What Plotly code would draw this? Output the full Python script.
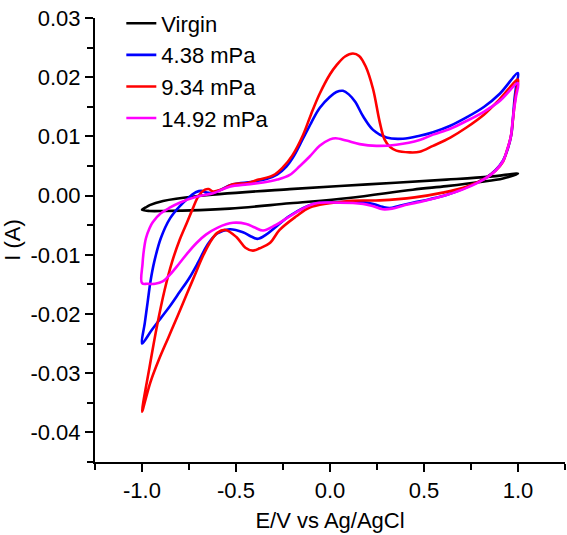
import plotly.graph_objects as go

# Virgin (black): upper branch -1 -> 1, then lower branch 1 -> -1
virgin_x = [-1.0, -0.98, -0.959, -0.888, -0.711, -0.214, 0.2, 0.62, 0.85, 1.0,
            0.92, 0.8, 0.62, 0.44, 0.1, -0.214, -0.534, -0.888, -0.96, -1.0]
virgin_y = [-0.0024, -0.0020, -0.0016, -0.0009, -0.0001, 0.0011, 0.0019, 0.0027, 0.0032, 0.0037,
            0.0029, 0.0023, 0.0016, 0.0010, -0.0004, -0.0013, -0.0022, -0.0026, -0.0026, -0.0024]

# 4.38 mPa (blue): anodic -1 -> 1, cathodic 1 -> -1
b_x = [-1.0, -0.985, -0.97, -0.955, -0.935, -0.9, -0.85, -0.8, -0.75, -0.711, -0.684, -0.655, -0.62,
       -0.516, -0.42, -0.338, -0.28, -0.232, -0.19, -0.144, -0.1, -0.055, 0.0, 0.034, 0.069, 0.1,
       0.135, 0.176, 0.229, 0.3, 0.388, 0.477, 0.548, 0.64, 0.726, 0.82, 0.903, 1.0,
       0.99, 0.982, 0.973, 0.965, 0.945, 0.92, 0.88, 0.832, 0.726, 0.619, 0.53, 0.44, 0.37, 0.317,
       0.28, 0.23, 0.176, 0.05, -0.09, -0.214, -0.285, -0.34, -0.383, -0.42, -0.463, -0.534,
       -0.6, -0.65, -0.7, -0.75, -0.8, -0.85, -0.9, -0.95, -1.0]
b_y = [-0.0250, -0.0215, -0.0180, -0.0145, -0.0112, -0.0072, -0.0038, -0.0018, -0.0003, 0.0006, 0.0008, 0.0005, 0.0005,
       0.0019, 0.0023, 0.0028, 0.0036, 0.0049, 0.0068, 0.0096, 0.0123, 0.0148, 0.0167, 0.0175, 0.0177, 0.0171,
       0.0158, 0.0134, 0.0111, 0.0098, 0.0096, 0.0101, 0.0107, 0.0118, 0.0132, 0.0150, 0.0172, 0.0207,
       0.0185, 0.0165, 0.0130, 0.0104, 0.0078, 0.0059, 0.0043, 0.0031, 0.0014, 0.0001, -0.0006, -0.0012, -0.0017, -0.0021,
       -0.0019, -0.0014, -0.0011, -0.0011, -0.0014, -0.0034, -0.0052, -0.0066, -0.0073, -0.0069, -0.0062, -0.0057,
       -0.0064, -0.0082, -0.0112, -0.0140, -0.0163, -0.0186, -0.0207, -0.0228, -0.0250]

# 9.34 mPa (red)
r_x = [-1.0, -0.96, -0.92, -0.88, -0.84, -0.8, -0.76, -0.73, -0.705, -0.685, -0.665, -0.645, -0.622,
       -0.58, -0.516, -0.445, -0.38, -0.303, -0.25, -0.2, -0.144, -0.1, -0.055, 0.0, 0.034, 0.08, 0.122,
       0.155, 0.19, 0.229, 0.264, 0.29, 0.32, 0.353, 0.424, 0.477, 0.548, 0.64, 0.726, 0.82, 0.903, 1.0,
       0.99, 0.982, 0.972, 0.962, 0.94, 0.92, 0.88, 0.83, 0.726, 0.6, 0.45, 0.264, 0.1, -0.108, -0.179,
       -0.268, -0.32, -0.374, -0.41, -0.45, -0.498, -0.556, -0.6, -0.64, -0.68, -0.72, -0.76, -0.81,
       -0.86, -0.91, -0.955, -1.0]
r_y = [-0.0365, -0.0290, -0.0220, -0.0160, -0.0112, -0.0075, -0.0045, -0.0022, -0.0004, 0.0005, 0.0010, 0.0011, 0.0007,
       0.0010, 0.0019, 0.0021, 0.0027, 0.0034, 0.0048, 0.0068, 0.0102, 0.0138, 0.0172, 0.0205, 0.0220, 0.0235, 0.0240,
       0.0236, 0.0218, 0.0180, 0.0125, 0.0095, 0.0082, 0.0076, 0.0073, 0.0074, 0.0084, 0.0098, 0.0115, 0.0137, 0.0163, 0.0196,
       0.0175, 0.0155, 0.0125, 0.0100, 0.0075, 0.0057, 0.0042, 0.0030, 0.0015, 0.0005, -0.0003, -0.0008, -0.0009, -0.0020, -0.0035,
       -0.0058, -0.0080, -0.0089, -0.0093, -0.0088, -0.0070, -0.0058, -0.0063, -0.0080, -0.0105, -0.0135, -0.0165, -0.0203,
       -0.0240, -0.0277, -0.0315, -0.0365]

# 14.92 mPa (magenta)
m_x = [-1.0, -0.997, -0.99, -0.979, -0.96, -0.943, -0.9, -0.85, -0.8, -0.711, -0.622, -0.534, -0.44,
       -0.356, -0.28, -0.214, -0.16, -0.108, -0.055, 0.0, 0.03, 0.087, 0.158, 0.247, 0.353, 0.477, 0.548,
       0.64, 0.726, 0.82, 0.903, 1.0,
       0.99, 0.98, 0.97, 0.962, 0.94, 0.92, 0.88, 0.832, 0.726, 0.619, 0.5, 0.4, 0.33, 0.28, 0.23, 0.176,
       0.05, -0.09, -0.214, -0.29, -0.356, -0.4, -0.445, -0.516, -0.597, -0.66, -0.71, -0.76, -0.805,
       -0.85, -0.89, -0.93, -0.97, -1.0]
m_y = [-0.0148, -0.0115, -0.0092, -0.0072, -0.0055, -0.0045, -0.0030, -0.0020, -0.0012, -0.0002, 0.0004, 0.0015, 0.0019,
       0.0022, 0.0027, 0.0035, 0.0050, 0.0066, 0.0084, 0.0095, 0.0097, 0.0093, 0.0087, 0.0084, 0.0086, 0.0094, 0.0103,
       0.0113, 0.0126, 0.0142, 0.0160, 0.0190,
       0.0168, 0.0148, 0.0122, 0.0100, 0.0075, 0.0058, 0.0042, 0.0030, 0.0013, 0.0001, -0.0009, -0.0016, -0.0022, -0.0023, -0.0018, -0.0014,
       -0.0012, -0.0014, -0.0035, -0.0050, -0.0059, -0.0054, -0.0048, -0.0046, -0.0054, -0.0066, -0.0080, -0.0098, -0.0116,
       -0.0133, -0.0145, -0.0149, -0.0149, -0.0148]

series_names = ["Virgin", "4.38 mPa", "9.34 mPa", "14.92 mPa"]
series_colors = ["#000000", "#0000FF", "#FF0000", "#FF00FF"]

x_tickvals = [-1.0, -0.5, 0.0, 0.5, 1.0]
x_ticktext = ["-1.0", "-0.5", "0.0", "0.5", "1.0"]
y_tickvals = [0.03, 0.02, 0.01, 0.0, -0.01, -0.02, -0.03, -0.04]
y_ticktext = ["0.03", "0.02", "0.01", "0.00", "-0.01", "-0.02", "-0.03", "-0.04"]

FONT = "Liberation Sans, Arial, sans-serif"

fig = go.Figure()
data = [(virgin_x, virgin_y), (b_x, b_y), (r_x, r_y), (m_x, m_y)]
for i, ((xs, ys), name, col) in enumerate(zip(data, series_names, series_colors)):
    fig.add_trace(go.Scatter(
        x=xs, y=ys, mode="lines", name=name, legendgroup=f"g{i}",
        line=dict(color=col, width=2.6, shape="spline", smoothing=1.0),
    ))

axis_common = dict(
    showline=True, linecolor="black", linewidth=2, ticks="outside", ticklen=8, tickwidth=2,
    tickcolor="black", showgrid=False, zeroline=False, mirror=False,
    tickfont=dict(family=FONT, size=22, color="black"),
)

fig.update_layout(
    width=567, height=535,
    margin=dict(l=95, r=2, t=15, b=73),
    paper_bgcolor="white", plot_bgcolor="white",
    font=dict(family=FONT, size=22, color="black"),
    showlegend=True,
    legend=dict(x=0.056, y=1.035, xanchor="left", yanchor="top", bgcolor="rgba(0,0,0,0)",
                font=dict(family=FONT, size=22, color="black"), tracegroupgap=11,
                traceorder="normal"),
    xaxis=dict(range=[-1.25, 1.25], tickmode="array", tickvals=x_tickvals, ticktext=x_ticktext,
               minor=dict(dtick=0.25, tick0=0, ticks="outside", ticklen=6, tickwidth=2, tickcolor="black"),
               title=dict(text="E/V vs Ag/AgCl", font=dict(family=FONT, size=22), standoff=10),
               **axis_common),
    yaxis=dict(range=[-0.045, 0.03], tickmode="array", tickvals=y_tickvals, ticktext=y_ticktext,
               minor=dict(dtick=0.005, tick0=0, ticks="outside", ticklen=6, tickwidth=2, tickcolor="black"),
               title=dict(text="I (A)", font=dict(family=FONT, size=22), standoff=6),
               **axis_common),
)

fig.write_html("out.html")
